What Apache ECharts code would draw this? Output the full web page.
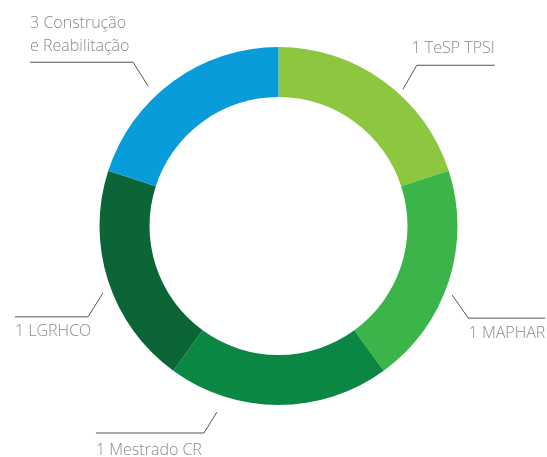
<!DOCTYPE html>
<html>
<head>
<meta charset="utf-8">
<script src="https://cdn.jsdelivr.net/npm/echarts@6/dist/echarts.min.js"></script>
<style>
html,body{margin:0;padding:0;background:#fff;}
#chart{width:547px;height:457px;}
</style>
</head>
<body>
<div id="chart"></div>
<script>
// Data
var categories = ['1 TeSP TPSI', '1 MAPHAR', '1 Mestrado CR', '1 LGRHCO', '3 Construção\ne Reabilitação'];
var values = [1, 1, 1, 1, 1];
var colors = ['#8dc63f', '#3bb54a', '#0a8843', '#0b6536', '#089cdb'];

// Label line geometry (polar: start radius/angle, elbow radius/angle, horizontal run, text offset)
var labelGeom = [
  {r0: 185, a0: 47.7, r1: 212, a1: 49.3, run: 78, side: 'right', dy: -17},
  {r0: 187, a0: -21.7, r1: 211, a1: -25.9, run: 77, side: 'right', dy: 15},
  {r0: 196, a0: 251.7, r1: 220, a1: 250.2, run: 108, side: 'left', dy: 17},
  {r0: 188, a0: 200.9, r1: 211, a1: 205.5, run: 73, side: 'left', dy: 15},
  {r0: 191, a0: 133.0, r1: 219, a1: 131.6, run: 103, side: 'left', dy: -27}
];

var CX = 278.5, CY = 226;

function polar(r, a) {
  var t = a * Math.PI / 180;
  return [CX + r * Math.cos(t), CY - r * Math.sin(t)];
}

var chart = echarts.init(document.getElementById('chart'), null, {renderer: 'canvas'});

var data = categories.map(function (c, i) {
  return {name: c, value: values[i], itemStyle: {color: colors[i]}};
});

chart.setOption({
  animation: false,
  series: [{
    type: 'pie',
    center: [CX, CY],
    radius: [129, 179],
    startAngle: 90,
    clockwise: true,
    avoidLabelOverlap: false,
    emphasis: {disabled: true},
    data: data,
    label: {
      show: true,
      formatter: '{b}',
      color: '#8a8a8a',
      fontFamily: 'Open Sans',
      fontWeight: 300,
      fontSize: 16,
      lineHeight: 23
    },
    labelLine: {
      show: true,
      lineStyle: {color: '#555555', width: 1}
    },
    labelLayout: function (params) {
      var g = labelGeom[params.dataIndex];
      var p0 = polar(g.r0, g.a0);
      var p1 = polar(g.r1, g.a1);
      var endX = g.side === 'right' ? p1[0] + g.run : p1[0] - g.run;
      var p2 = [endX, p1[1]];
      return {
        x: endX,
        y: p1[1] + g.dy,
        align: g.side === 'right' ? 'right' : 'left',
        verticalAlign: 'middle',
        labelLinePoints: [p0, p1, p2]
      };
    }
  }]
});
</script>
</body>
</html>
